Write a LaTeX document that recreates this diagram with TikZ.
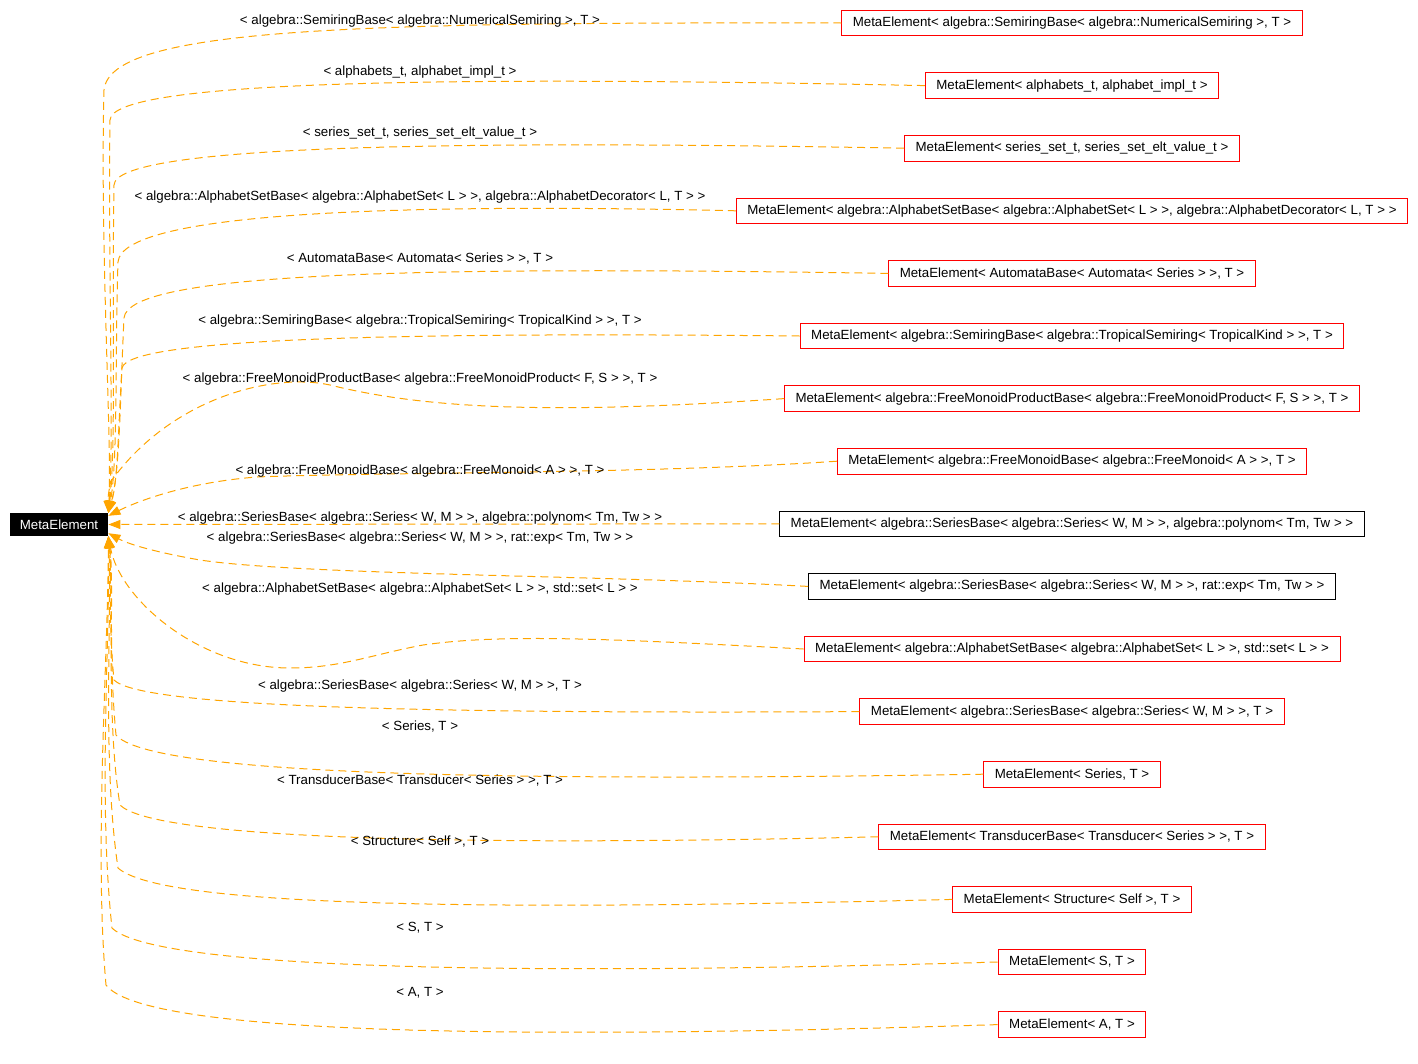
\documentclass[tikz,border=0pt]{standalone}
\usepackage{fontspec}
\setmainfont{Liberation Sans}
\usetikzlibrary{positioning, arrows.meta}
\definecolor{edgeorange}{HTML}{FFA500}

\begin{document}
\begin{tikzpicture}[x=1pt, y=-1pt, every node/.style={font=\fontsize{13.3}{16}\selectfont}]
  % Define styles for nodes
  \tikzset{
    metanode/.style={rectangle, fill=black, text=white, inner xsep=10pt, inner ysep=0pt, minimum height=23pt},
    classnode/.style={rectangle, draw=red, line width=0.9pt, inner xsep=11pt, inner ysep=0pt, minimum height=25.5pt},
    plainnode/.style={classnode, draw=black},
    edgelabel/.style={inner sep=1pt},
    inherit/.style={draw=edgeorange, line width=1pt, dash pattern=on 8pt off 5pt, -{Triangle[length=12pt, width=9pt]}}
  }
  \useasboundingbox (0,0) rectangle (1418,1063);

  % The base class
  \node[metanode] (meta) at (59,524.5) {MetaElement};

  % The derived instances, one column
  \node[classnode] (b1) at (1072,23) {MetaElement< algebra::SemiringBase< algebra::NumericalSemiring >, T >};
  \node[classnode, below=36.2pt of b1] (b2) {MetaElement< alphabets\_t, alphabet\_impl\_t >};
  \node[classnode, below=36.2pt of b2] (b3) {MetaElement< series\_set\_t, series\_set\_elt\_value\_t >};
  \node[classnode, below=36.2pt of b3] (b4) {MetaElement< algebra::AlphabetSetBase< algebra::AlphabetSet< L > >, algebra::AlphabetDecorator< L, T > >};
  \node[classnode, below=36.2pt of b4] (b5) {MetaElement< AutomataBase< Automata< Series > >, T >};
  \node[classnode, below=36.2pt of b5] (b6) {MetaElement< algebra::SemiringBase< algebra::TropicalSemiring< TropicalKind > >, T >};
  \node[classnode, below=36.2pt of b6] (b7) {MetaElement< algebra::FreeMonoidProductBase< algebra::FreeMonoidProduct< F, S > >, T >};
  \node[classnode, below=36.2pt of b7] (b8) {MetaElement< algebra::FreeMonoidBase< algebra::FreeMonoid< A > >, T >};
  \node[plainnode, below=36.2pt of b8] (b9) {MetaElement< algebra::SeriesBase< algebra::Series< W, M > >, algebra::polynom< Tm, Tw > >};
  \node[plainnode, below=36.2pt of b9] (b10) {MetaElement< algebra::SeriesBase< algebra::Series< W, M > >, rat::exp< Tm, Tw > >};
  \node[classnode, below=36.2pt of b10] (b11) {MetaElement< algebra::AlphabetSetBase< algebra::AlphabetSet< L > >, std::set< L > >};
  \node[classnode, below=36.2pt of b11] (b12) {MetaElement< algebra::SeriesBase< algebra::Series< W, M > >, T >};
  \node[classnode, below=36.2pt of b12] (b13) {MetaElement< Series, T >};
  \node[classnode, below=36.2pt of b13] (b14) {MetaElement< TransducerBase< Transducer< Series > >, T >};
  \node[classnode, below=36.2pt of b14] (b15) {MetaElement< Structure< Self >, T >};
  \node[classnode, below=36.2pt of b15] (b16) {MetaElement< S, T >};
  \node[classnode, below=36.2pt of b16] (b17) {MetaElement< A, T >};

  % Draw the edges back to the base class
  \draw[inherit] (b1.west) .. controls (350,22) and (110,28) .. (104,90) .. controls (100,250) and (112,440) .. (meta.north east);
  \draw[inherit] (b2.west) .. controls (450,76) and (112,80) .. (110,120) .. controls (108,260) and (114,440) .. (meta.north east);
  \draw[inherit] (b3.west) .. controls (450,140) and (116,145) .. (114,185) .. controls (112,300) and (116,450) .. (meta.north east);
  \draw[inherit] (b4.west) .. controls (400,203) and (122,212) .. (118,262) .. controls (115,350) and (118,460) .. (meta.north east);
  \draw[inherit] (b5.west) .. controls (420,266) and (128,272) .. (124,318) .. controls (120,400) and (120,470) .. (meta.north east);
  \draw[inherit] (b6.west) .. controls (400,332) and (128,338) .. (122,368) .. controls (118,430) and (118,480) .. (meta.north east);
  \draw[inherit] (b7.west) .. controls (560,414) and (430,410) .. (330,385) .. controls (270,372) and (170,400) .. (112,480) .. controls (108,490) and (108,500) .. (meta.north east);
  \draw[inherit] (b8.west) .. controls (650,474) and (380,472) .. (257,477) .. controls (190,482) and (140,500) .. (meta.10);
  \draw[inherit] (b9.west) -- (meta.east);
  \draw[inherit] (b10.west) .. controls (600,575) and (300,575) .. (200,560) .. controls (160,553) and (130,545) .. (meta.-10);
  \draw[inherit] (b11.west) .. controls (600,638) and (500,634) .. (423,645) .. controls (370,655) and (340,668) .. (290,668) .. controls (200,668) and (120,600) .. (meta.south east);
  \draw[inherit] (b12.west) .. controls (400,714) and (140,706) .. (114,680) .. controls (108,620) and (112,570) .. (meta.south east);
  \draw[inherit] (b13.west) .. controls (500,782) and (150,775) .. (116,735) .. controls (108,650) and (114,580) .. (meta.south east);
  \draw[inherit] (b14.west) .. controls (400,848) and (150,835) .. (120,805) .. controls (106,720) and (114,600) .. (meta.south east);
  \draw[inherit] (b15.west) .. controls (450,912) and (160,905) .. (118,868) .. controls (102,760) and (112,620) .. (meta.south east);
  \draw[inherit] (b16.west) .. controls (450,978) and (150,965) .. (112,928) .. controls (98,800) and (110,640) .. (meta.south east);
  \draw[inherit] (b17.west) .. controls (450,1042) and (140,1030) .. (106,985) .. controls (94,850) and (108,660) .. (meta.south east);

  % Template arguments on the edges
  \node[edgelabel] (l1) at (420,21) {< algebra::SemiringBase< algebra::NumericalSemiring >, T >};
  \node[edgelabel] (l2) at (420,72) {< alphabets\_t, alphabet\_impl\_t >};
  \node[edgelabel] (l3) at (420,133) {< series\_set\_t, series\_set\_elt\_value\_t >};
  \node[edgelabel] (l4) at (420,197) {< algebra::AlphabetSetBase< algebra::AlphabetSet< L > >, algebra::AlphabetDecorator< L, T > >};
  \node[edgelabel] (l5) at (420,259) {< AutomataBase< Automata< Series > >, T >};
  \node[edgelabel] (l6) at (420,321) {< algebra::SemiringBase< algebra::TropicalSemiring< TropicalKind > >, T >};
  \node[edgelabel] (l7) at (420,379) {< algebra::FreeMonoidProductBase< algebra::FreeMonoidProduct< F, S > >, T >};
  \node[edgelabel] (l8) at (420,471) {< algebra::FreeMonoidBase< algebra::FreeMonoid< A > >, T >};
  \node[edgelabel] (l9) at (420,518) {< algebra::SeriesBase< algebra::Series< W, M > >, algebra::polynom< Tm, Tw > >};
  \node[edgelabel] (l10) at (420,538) {< algebra::SeriesBase< algebra::Series< W, M > >, rat::exp< Tm, Tw > >};
  \node[edgelabel] (l11) at (420,589) {< algebra::AlphabetSetBase< algebra::AlphabetSet< L > >, std::set< L > >};
  \node[edgelabel] (l12) at (420,686) {< algebra::SeriesBase< algebra::Series< W, M > >, T >};
  \node[edgelabel] (l13) at (420,727) {< Series, T >};
  \node[edgelabel] (l14) at (420,781) {< TransducerBase< Transducer< Series > >, T >};
  \node[edgelabel] (l15) at (420,842) {< Structure< Self >, T >};
  \node[edgelabel] (l16) at (420,928) {< S, T >};
  \node[edgelabel] (l17) at (420,993) {< A, T >};
\end{tikzpicture}
\end{document}
